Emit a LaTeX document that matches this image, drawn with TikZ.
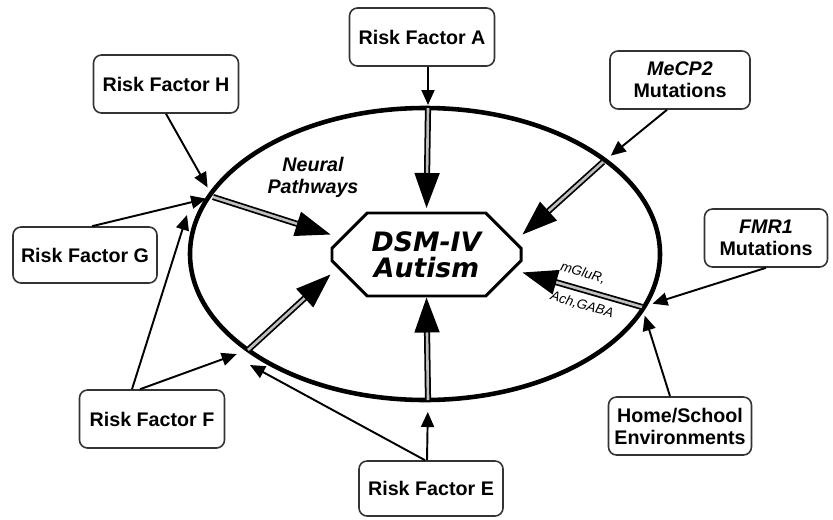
\documentclass[tikz,border=0pt]{standalone}
\usepackage{fontspec}
\setmainfont{Liberation Sans}
\newfontfamily\verd{DejaVu Sans}
\usetikzlibrary{arrows.meta,shapes.misc}

\begin{document}
\begin{tikzpicture}[thick,
    box/.style={draw=black!80, line width=0.9pt, rounded corners=0.16cm,
      minimum width=2.9cm, minimum height=1.16cm, align=center,
      font=\fontsize{11.2}{12.5}\selectfont\bfseries},
    sgl/.style={line width=1.1pt, -{Triangle[length=0.3cm,width=0.26cm]}},
    dbl/.style={double=gray!50, double distance=1.5pt, line width=1pt,
      -{Triangle[length=0.7cm,width=0.5cm]}},
    tag/.style={font=\fontsize{7.7}{9}\selectfont\itshape, rotate=-16}]
  \useasboundingbox (0,0) rectangle (16.66,10.38);

  % the brain and the diagnosis
  \draw[line width=2.6pt] (8.5,5.3) ellipse (4.7 and 2.92);
  \node (oct) at (8.53,5.29) [draw, line width=1.7pt, chamfered rectangle,
    chamfered rectangle xsep=0.7cm, minimum width=3.78cm, minimum height=1.66cm,
    font=\verd\fontsize{15.2}{15}\selectfont\bfseries\itshape, align=center]
    {DSM-IV\\Autism};

  \node (A) at (8.44,9.64) [box] {Risk Factor A};
  \node (H) at (3.32,8.70) [box] {Risk Factor H};
  \node (G) at (1.70,5.28) [box, minimum width=2.88cm, minimum height=1.12cm] {Risk Factor G};
  \node (F) at (3.04,2.00) [box] {Risk Factor F};
  \node (E) at (8.62,0.61) [box, minimum width=2.88cm, minimum height=1.1cm] {Risk Factor E};
  \node (mecp) at (13.60,8.78) [box, minimum width=2.8cm] {\textit{MeCP2}\\Mutations};
  \node (fmr) at (15.32,5.62) [box, minimum width=2.46cm] {\textit{FMR1}\\Mutations};
  \node (home) at (13.60,1.86) [box, minimum width=2.82cm] {Home/School\\Environments};

  \node (np) at (6.26,6.84) [align=center, font=\fontsize{11.2}{12.5}\selectfont\bfseries\itshape]
    {Neural\\Pathways};
  \node (mg) at (11.66,4.92) [tag] {mGluR,};
  \node (ach) at (11.64,4.28) [tag] {Ach,GABA};

  % where the pathways enter
  \coordinate (jA) at (8.56,8.22);
  \coordinate (jB) at (8.56,2.38);
  \coordinate (jNP) at (4.26,6.44);
  \coordinate (jLL) at (4.96,3.38);
  \coordinate (jUR) at (12.06,7.14);
  \coordinate (jLR) at (12.84,4.24);
  \coordinate (tF) at (3.74,6.08);
  \coordinate (tE) at (5.00,3.08);

  \draw[sgl, shorten >=0.06cm] (A.south -| jA) -- (jA);
  \draw[sgl, shorten >=0.22cm] (H.south) -- (jNP);
  \draw[sgl, shorten >=0.14cm] ([xshift=0.14cm]G.north) -- (jNP);
  \draw[sgl] ([xshift=-0.4cm]F.north) -- (tF);
  \draw[sgl, shorten >=0.24cm] ([xshift=-0.24cm]F.north) -- (jLL);
  \draw[sgl] ([xshift=-0.12cm]E.north) -- (tE);
  \draw[sgl, shorten >=0.24cm] ([xshift=-0.08cm]E.north) -- (jB);
  \draw[sgl, shorten >=0.18cm] ([xshift=-0.2cm]home.north) -- (jLR);
  \draw[sgl, shorten >=0.22cm] (fmr.south) -- (jLR);
  \draw[sgl, shorten >=0.2cm] ([xshift=-0.26cm]mecp.south) -- (jUR);

  \draw[dbl, shorten >=2pt] (jA) -- (oct.north);
  \draw[dbl] (jB) -- (oct.south);
  \draw[dbl] (jNP) -- ([yshift=0.4cm]oct.west);
  \draw[dbl] (jLL) -- ([yshift=-0.4cm]oct.west);
  \draw[dbl] (jUR) -- ([yshift=0.4cm]oct.east);
  \draw[dbl] (jLR) -- ([yshift=-0.36cm]oct.east);
\end{tikzpicture}
\end{document}
